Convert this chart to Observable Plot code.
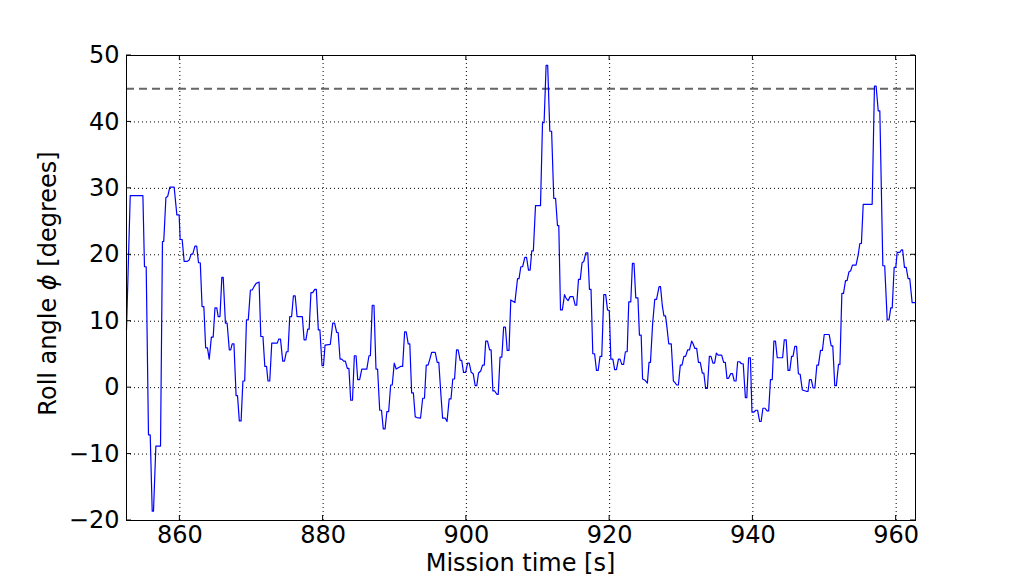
<!DOCTYPE html>
<html>
<head>
<meta charset="utf-8">
<script src="https://cdn.jsdelivr.net/npm/d3@7"></script>
<script src="https://cdn.jsdelivr.net/npm/@observablehq/plot@0.6"></script>
<style>
  html, body { margin: 0; padding: 0; background: #fff; }
  #chart svg { display: block; }
</style>
</head>
<body>
<div id="chart"></div>
<script>
// Mission time [s]
const time = [
852.55,853.07,854.84,855.06,855.30,855.62,855.86,856.14,856.32,856.65,857.30,857.57,857.75,858.05,858.30,858.60,859.20,859.58,859.90,860.04,
860.32,860.60,861.00,861.30,861.58,861.80,862.10,862.35,862.60,862.85,863.10,863.35,863.60,863.85,864.10,864.40,864.65,864.90,865.15,865.35,
865.60,865.86,866.05,866.36,866.60,866.90,867.10,867.30,867.55,867.85,868.05,868.30,868.55,868.80,869.05,869.30,869.55,869.85,870.10,870.35,
870.65,871.06,871.30,871.60,871.86,872.10,872.30,872.55,872.83,873.60,873.80,874.05,874.36,874.60,874.87,875.10,875.34,875.60,875.85,876.10,
876.36,877.10,877.34,877.60,877.85,878.05,878.30,878.55,878.83,879.05,879.33,879.55,879.85,880.05,880.27,881.00,881.34,881.60,881.90,882.10,
882.36,882.60,882.87,883.10,883.38,883.60,883.85,884.10,884.36,884.60,884.83,885.10,885.40,886.10,886.40,886.60,886.86,887.10,887.38,887.60,
887.90,888.15,888.40,888.65,888.90,889.15,889.43,889.65,889.93,890.20,890.50,890.80,891.10,891.38,891.60,891.88,892.10,892.36,892.60,892.86,
893.10,893.60,893.90,894.15,894.40,894.65,894.90,895.15,895.65,895.93,896.15,896.44,896.68,897.05,897.30,897.60,897.85,898.10,898.35,898.63,
898.85,899.13,899.35,899.60,899.90,900.17,900.40,900.67,900.95,901.23,901.45,901.70,902.00,902.26,902.50,902.70,902.95,903.24,903.45,903.70,
903.95,904.25,904.45,904.70,904.95,905.20,905.45,905.70,905.95,906.20,906.77,907.14,907.35,907.60,907.85,908.16,908.40,908.67,908.90,909.13,
909.35,909.65,910.35,910.63,910.85,911.13,911.35,911.65,911.90,912.20,912.45,912.72,912.90,913.14,913.40,913.70,913.95,914.20,914.48,914.90,
915.20,915.40,915.65,915.90,916.15,916.40,916.67,916.95,917.18,917.40,917.65,917.90,918.16,918.40,918.66,918.90,919.18,919.45,919.70,919.95,
920.17,920.45,920.70,920.95,921.23,921.45,921.70,921.95,922.20,922.45,922.67,922.95,923.18,923.40,923.65,923.95,924.16,924.40,924.60,924.95,
925.27,925.50,925.70,926.00,926.30,926.55,926.90,927.10,927.36,927.58,927.80,928.00,928.25,928.60,928.90,929.10,929.36,929.60,929.87,930.10,
930.37,930.60,930.90,931.15,931.45,931.65,931.90,932.15,932.40,932.65,932.94,933.15,933.40,933.65,933.92,934.15,934.42,934.65,934.90,935.15,
935.64,935.92,936.15,936.38,936.60,936.90,937.15,937.40,937.65,937.87,938.15,938.40,938.65,938.95,939.15,939.40,939.65,939.87,940.15,940.40,
940.65,940.95,941.15,941.40,941.70,941.97,942.20,942.45,942.70,942.93,943.15,943.40,944.15,944.38,944.65,944.90,945.15,945.40,945.60,945.85,
946.10,946.35,946.60,946.90,947.45,947.70,947.90,948.15,948.40,948.65,948.93,949.15,949.44,949.70,949.96,950.65,950.93,951.15,951.43,951.65,
951.95,952.15,952.42,952.65,952.93,953.15,953.40,953.65,953.90,954.40,954.70,954.93,955.15,955.40,956.65,956.97,957.20,957.50,957.72,958.14,
958.40,958.75,959.00,959.25,959.45,959.72,959.95,960.14,960.50,960.74,960.90,961.16,961.40,961.67,961.90,962.23,962.70
];
// Roll angle phi [degrees]
const roll = [
8.7,28.9,28.9,18.2,18.2,-7.1,-7.1,-18.6,-18.6,-8.8,-8.8,22.0,22.0,28.6,28.8,30.2,30.2,26.0,26.0,22.3,
22.3,19.0,19.0,19.2,20.1,20.1,21.3,21.3,18.8,18.8,12.2,12.2,6.0,6.0,4.3,7.6,7.6,12.0,12.0,10.7,
10.7,16.6,16.6,9.7,9.7,5.7,5.7,6.6,6.6,-1.2,-1.2,-5.0,-5.0,1.0,1.0,10.2,10.2,14.7,14.7,15.2,
15.7,15.9,7.7,7.7,3.2,3.2,1.0,1.0,6.7,6.7,7.3,7.3,4.0,4.0,5.4,5.4,10.7,10.7,13.8,13.8,
10.7,10.7,7.2,7.2,8.8,8.8,14.3,14.3,14.8,14.8,8.7,8.7,3.3,3.3,6.4,6.5,9.7,9.7,8.3,8.3,
4.3,4.3,4.0,4.0,2.9,2.9,-1.9,-1.9,4.8,4.8,1.2,1.2,2.8,2.8,4.8,4.8,12.4,12.4,2.8,2.8,
-3.4,-3.4,-6.2,-6.2,-3.6,-3.6,0.4,0.4,3.7,2.8,3.0,3.2,3.2,8.4,8.4,6.6,6.6,-0.8,-0.8,-4.4,
-4.5,-4.6,-1.6,-1.6,3.4,3.4,4.3,5.3,5.3,3.8,3.8,-1.0,-4.6,-4.6,-5.1,-1.7,-1.7,1.3,1.3,5.7,
5.7,4.1,4.1,2.3,2.3,3.7,3.7,2.3,2.1,0.3,0.3,2.2,2.5,3.4,3.4,7.0,7.0,5.7,5.7,-0.5,
-0.5,-1.0,-1.0,4.6,4.6,9.1,9.1,5.6,5.6,13.2,12.8,16.4,16.4,18.2,18.2,19.6,19.6,17.7,17.7,20.6,
20.6,27.4,27.4,39.9,39.9,48.5,48.5,38.6,38.6,28.5,28.5,24.4,24.4,11.7,11.7,14.0,13.4,13.1,13.7,13.7,
12.4,12.4,16.3,16.3,18.8,19.0,20.3,20.3,14.8,14.8,5.1,5.1,2.6,2.6,4.7,4.7,14.0,14.0,11.7,11.6,
4.3,4.3,2.7,2.7,4.3,4.3,3.5,3.5,5.4,5.4,12.9,12.9,18.7,18.7,13.5,13.5,7.9,7.9,1.3,1.1,
0.7,3.8,3.8,9.6,13.3,13.3,15.2,15.2,12.3,10.8,10.8,9.1,6.6,6.6,1.0,0.8,0.4,0.4,3.4,3.4,
4.7,4.7,5.7,5.7,7.0,6.6,5.9,5.9,3.8,3.8,2.2,2.2,-0.1,-0.1,4.7,4.7,3.7,3.7,5.2,4.9,
4.9,3.8,3.8,1.4,1.4,2.1,2.1,1.0,1.0,3.9,3.9,3.6,3.6,-1.5,-1.5,4.5,4.5,-3.7,-3.7,-3.4,
-3.4,-5.1,-5.1,-3.1,-3.1,-3.5,-3.5,1.2,1.2,7.0,7.0,4.5,4.5,7.2,7.2,2.6,2.6,4.7,4.7,6.2,
6.2,2.1,2.0,-0.35,-0.55,-0.55,1.2,1.2,-0.05,-0.05,3.4,3.4,5.6,5.6,8.0,8.0,6.3,6.3,0.3,0.3,
3.5,3.5,14.2,14.2,16.1,16.1,17.4,17.6,18.45,18.45,20.0,21.7,21.7,27.6,27.6,45.4,45.4,41.65,41.65,18.35,
18.35,10.2,10.2,12.0,12.0,18.1,18.1,20.35,20.35,20.75,20.75,18.1,18.1,16.4,16.4,12.8,12.8
];
const xTicks = [860, 880, 900, 920, 940, 960];
const yTicks = [-20, -10, 0, 10, 20, 30, 40, 50];
const threshold = [45];
const xLabel = "Mission time [s]";
const yLabelParts = ["Roll angle ", "ϕ", " [degrees]"];

const data = time.map((t, i) => ({t, v: roll[i]}));
const fmt = d3.format("d");

const chart = Plot.plot({
  width: 1012,
  height: 576,
  marginLeft: 126,
  marginRight: 97,
  marginTop: 55,
  marginBottom: 56,
  style: {fontFamily: "'DejaVu Sans', sans-serif", fontSize: "24px", background: "#fff", color: "#000"},
  x: {domain: [852.55, 962.7]},
  y: {domain: [-20, 50]},
  marks: [
    Plot.gridX(xTicks, {stroke: "#000", strokeOpacity: 1, strokeWidth: 1, strokeDasharray: "1,3"}),
    Plot.gridY(yTicks, {stroke: "#000", strokeOpacity: 1, strokeWidth: 1, strokeDasharray: "1,3"}),
    Plot.ruleY(threshold, {stroke: "#666", strokeWidth: 2, strokeDasharray: "8,5"}),
    Plot.line(data, {x: "t", y: "v", stroke: "#0000ff", strokeWidth: 1.2}),
    Plot.frame({stroke: "#000", strokeWidth: 1}),
    Plot.axisX(xTicks, {tickSize: 0, tickPadding: 5, tickFormat: fmt, label: null, fontSize: 24}),
    Plot.axisY(yTicks, {tickSize: 0, tickPadding: 7, tickFormat: fmt, label: null, fontSize: 24})
  ]
});

document.getElementById("chart").appendChild(chart);

// inward ticks on all four sides (matplotlib classic style) and axis titles
const svg = d3.select(chart);
const sx = chart.scale("x"), sy = chart.scale("y");
const [xl, xr] = sx.range, [yb, yt] = sy.range;
const tk = svg.append("g").attr("stroke", "#000").attr("stroke-width", 1);
xTicks.forEach(v => {
  const px = sx.apply(v);
  tk.append("line").attr("x1", px).attr("x2", px).attr("y1", yb).attr("y2", yb - 5);
  tk.append("line").attr("x1", px).attr("x2", px).attr("y1", yt).attr("y2", yt + 5);
});
yTicks.forEach(v => {
  const py = sy.apply(v);
  tk.append("line").attr("y1", py).attr("y2", py).attr("x1", xl).attr("x2", xl + 5);
  tk.append("line").attr("y1", py).attr("y2", py).attr("x1", xr).attr("x2", xr - 5);
});
svg.append("text")
  .attr("x", (xl + xr) / 2).attr("y", 571)
  .attr("text-anchor", "middle")
  .attr("font-family", "'DejaVu Sans', sans-serif").attr("font-size", 24).attr("fill", "#000")
  .text(xLabel);
const yl = svg.append("text")
  .attr("transform", `translate(56,${(yb + yt) / 2 - 4}) rotate(-90)`)
  .attr("text-anchor", "middle")
  .attr("font-family", "'DejaVu Sans', sans-serif").attr("font-size", 24).attr("fill", "#000");
yl.append("tspan").text(yLabelParts[0]);
yl.append("tspan").attr("font-style", "italic").text(yLabelParts[1]);
yl.append("tspan").text(yLabelParts[2]);
</script>
</body>
</html>
